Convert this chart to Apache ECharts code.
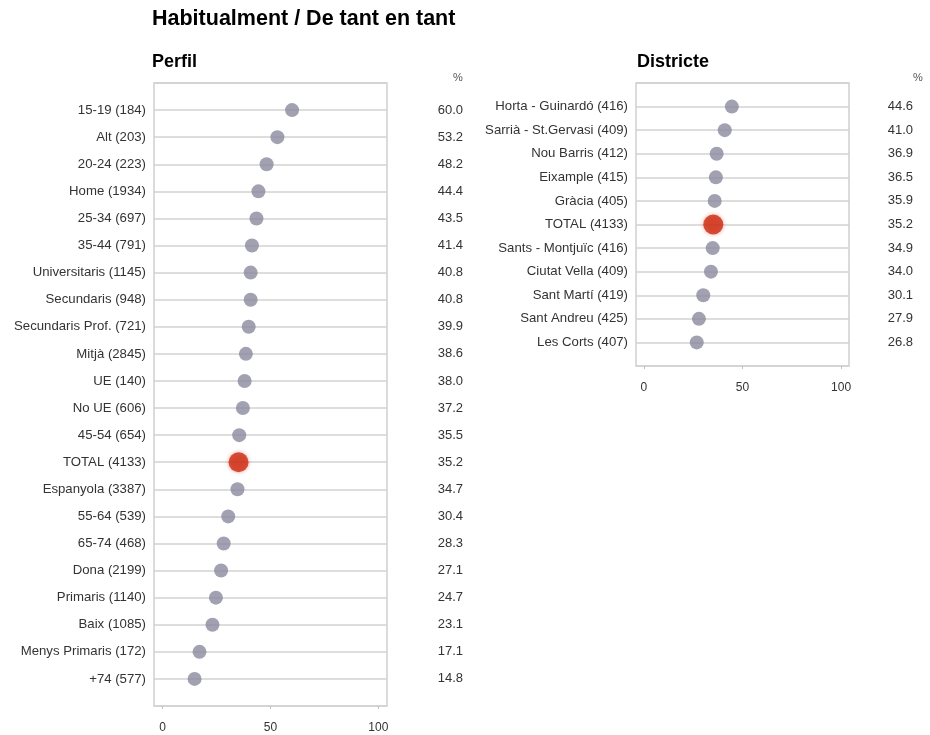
<!DOCTYPE html>
<html><head><meta charset="utf-8">
<script src="https://cdn.jsdelivr.net/npm/echarts@6/dist/echarts.min.js"></script>
<style>html,body{margin:0;padding:0;background:#fff}#c{width:930px;height:735px}</style>
</head><body><div id="c"></div>
<script>
const perfilCats = ["15-19 (184)","Alt (203)","20-24 (223)","Home (1934)","25-34 (697)","35-44 (791)","Universitaris (1145)","Secundaris (948)","Secundaris Prof. (721)","Mitjà (2845)","UE (140)","No UE (606)","45-54 (654)","TOTAL (4133)","Espanyola (3387)","55-64 (539)","65-74 (468)","Dona (2199)","Primaris (1140)","Baix (1085)","Menys Primaris (172)","+74 (577)"];
const perfilVals = [60.0,53.2,48.2,44.4,43.5,41.4,40.8,40.8,39.9,38.6,38.0,37.2,35.5,35.2,34.7,30.4,28.3,27.1,24.7,23.1,17.1,14.8];
const districteCats = ["Horta - Guinardó (416)","Sarrià - St.Gervasi (409)","Nou Barris (412)","Eixample (415)","Gràcia (405)","TOTAL (4133)","Sants - Montjuïc (416)","Ciutat Vella (409)","Sant Martí (419)","Sant Andreu (425)","Les Corts (407)"];
const districteVals = [44.6,41.0,36.9,36.5,35.9,35.2,34.9,34.0,30.1,27.9,26.8];
const xTicks = [0, 50, 100];
const totalKey = "TOTAL";

const FONT = "'Liberation Sans', Arial, sans-serif";
const TXT = '#333';
const GREY_DOT = '#8a8a9e';
const RED_DOT = '#cc2a10';

function points(cats, vals) {
  return vals.map((v, i) => {
    const isTot = cats[i].indexOf(totalKey) === 0;
    return {
      value: [v, i],
      symbolSize: isTot ? 20 : 14,
      itemStyle: { color: isTot ? RED_DOT : GREY_DOT, shadowBlur: isTot ? 4 : 0, shadowColor: 'rgba(230,40,20,0.5)' }
    };
  });
}

function xAx(gi) {
  return {
    type: 'value', gridIndex: gi, min: -4, max: 104,
    axisLine: { show: false, onZero: false },
    splitLine: { show: false },
    axisTick: { show: true, customValues: xTicks, length: 3, lineStyle: { color: '#c0c0c0' } },
    axisLabel: { customValues: xTicks, color: TXT, fontFamily: FONT, fontSize: 12, margin: 16 }
  };
}
function yCat(gi, cats) {
  return {
    type: 'value', gridIndex: gi, inverse: true, min: -1, max: cats.length, interval: 1,
    axisLine: { show: false }, axisTick: { show: false },
    splitLine: { show: true, lineStyle: { color: '#d2d2d2', width: 1.5 } },
    axisLabel: { color: TXT, fontFamily: FONT, fontSize: 13.2, margin: 8,
      formatter: v => (cats[v] !== undefined ? cats[v] : '') }
  };
}
function yVal(gi, vals, margin) {
  return {
    type: 'value', gridIndex: gi, inverse: true, min: -1, max: vals.length, interval: 1,
    position: 'right',
    axisLine: { show: false }, axisTick: { show: false }, splitLine: { show: false },
    axisLabel: { color: TXT, fontFamily: FONT, fontSize: 13, margin: margin, align: 'right',
      formatter: v => (vals[v] !== undefined ? vals[v].toFixed(1) : '') }
  };
}

const chart = echarts.init(document.getElementById('c'), null, { renderer: 'canvas' });
chart.setOption({
  backgroundColor: '#fff',
  animation: false,
  title: [
    { text: 'Habitualment / De tant en tant', left: 152, top: 8, padding: 0, textStyle: { fontFamily: FONT, fontSize: 21.5, fontWeight: 'bold', color: '#000' } },
    { text: 'Perfil', left: 152, top: 53, padding: 0, textStyle: { fontFamily: FONT, fontSize: 18, fontWeight: 'bold', color: '#000' } },
    { text: 'Districte', left: 637, top: 53, padding: 0, textStyle: { fontFamily: FONT, fontSize: 18, fontWeight: 'bold', color: '#000' } },
    { text: '%', left: 453, top: 72, padding: 0, textStyle: { fontFamily: FONT, fontSize: 11, fontWeight: 'normal', color: '#555' } },
    { text: '%', left: 913, top: 72, padding: 0, textStyle: { fontFamily: FONT, fontSize: 11, fontWeight: 'normal', color: '#555' } }
  ],
  grid: [
    { left: 154, right: 930 - 387, top: 83, bottom: 735 - 706, show: true, borderColor: '#d0d0d0', borderWidth: 1.5, containLabel: false },
    { left: 636, right: 930 - 849, top: 83, bottom: 735 - 366, show: true, borderColor: '#d0d0d0', borderWidth: 1.5, containLabel: false }
  ],
  xAxis: [xAx(0), xAx(1)],
  yAxis: [yCat(0, perfilCats), yVal(0, perfilVals, 76), yCat(1, districteCats), yVal(1, districteVals, 64)],
  series: [
    { type: 'scatter', xAxisIndex: 0, yAxisIndex: 0, data: points(perfilCats, perfilVals), z: 5 },
    { type: 'scatter', xAxisIndex: 1, yAxisIndex: 2, data: points(districteCats, districteVals), z: 5 }
  ]
});
</script></body></html>
